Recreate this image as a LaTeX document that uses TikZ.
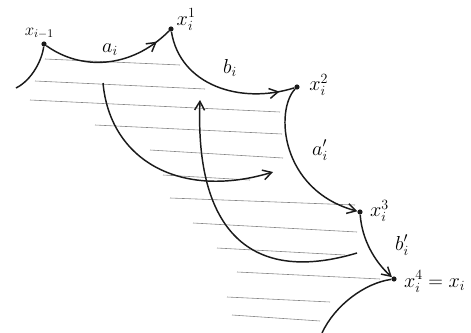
\documentclass[tikz,border=0pt]{standalone}
\usetikzlibrary{positioning, arrows.meta, decorations.markings}
\definecolor{penink}{HTML}{1A1A1A}
\definecolor{hatchgray}{HTML}{858585}

\tikzset{
  pt/.style={circle, fill=penink, inner sep=0pt, minimum size=4.4pt},
  lbl/.style={font=\Large, inner sep=1pt},
  biglbl/.style={font=\LARGE, inner sep=1pt},
  ink/.style={draw=penink, line width=1.25pt},
  tip/.style={-{Straight Barb[length=2.6mm,width=3mm]}},
  midtip/.style={postaction={decorate},
    decoration={markings, mark=at position #1 with {\arrow{Straight Barb[length=2.6mm,width=3mm]}}}},
  hatch/.style={draw=hatchgray, line width=0.5pt},
}

\begin{document}
\begin{tikzpicture}[x=0.03cm, y=-0.03cm]
  \useasboundingbox (0,0) rectangle (471,333);
  % hatching
  \foreach \ax/\ay/\bx/\by in {45/59/180/65, 35/81/205/89, 30/100/280/112, 95/125/282/134,
      150/150/283/158, 163/175/250/180, 170/198/355/205, 193/223/357/232,
      217/248/345/255, 237/272/380/279, 227/297/330/302, 232/315/320/321}
    \draw[hatch] (\ax,\ay) -- (\bx,\by);

  % points
  \node[pt] (xa) at (44,44) {};
  \node[pt] (xb) at (171,29) {};
  \node[pt] (xc) at (297,87) {};
  \node[pt] (xd) at (360,212) {};
  \node[pt] (xe) at (394,279) {};
  \coordinate (taila) at (16,88);
  \coordinate (tailb) at (322,333);
  \coordinate (s1) at (103,83);
  \coordinate (e1) at (273,172);
  \coordinate (s2) at (357,253);
  \coordinate (e2) at (200,100);

  % labels
  \node[lbl, above=1pt of xa, xshift=-4pt] (txa) {$x_{i-1}$};
  \node[biglbl, above right=-4pt and 2pt of xb] (txb) {$x_i^1$};
  \node[biglbl, right=7pt of xc, yshift=2pt] (txc) {$x_i^2$};
  \node[biglbl, right=5pt of xd, yshift=1pt] (txd) {$x_i^3$};
  \node[biglbl, right=5pt of xe, yshift=-2pt] (txe) {$x_i^4=x_i$};
  \node[biglbl] (la) at (110,50) {$a_i$};
  \node[biglbl] (lb) at (230,68) {$b_i$};
  \node[biglbl] (lap) at (320,150) {$a_i'$};
  \node[biglbl] (lbp) at (402,245) {$b_i'$};

  % path pieces
  \draw[ink] (xa) .. controls (42,60) and (32,80) .. (taila);
  \draw[ink, midtip=0.88] (xa) .. controls (80,70) and (130,70) .. (xb);
  \draw[ink, midtip=0.9] (xb) .. controls (180,85) and (240,105) .. (xc);
  \draw[ink, tip] (xc) .. controls (275,110) and (280,190) .. (xd);
  \draw[ink, tip] (xd) .. controls (362,240) and (375,262) .. (xe);
  \draw[ink] (xe) .. controls (365,283) and (335,305) .. (tailb);
  \draw[ink, tip] (s1) .. controls (110,160) and (180,200) .. (e1);
  \draw[ink, tip] (s2) .. controls (250,285) and (195,230) .. (e2);
\end{tikzpicture}
\end{document}
